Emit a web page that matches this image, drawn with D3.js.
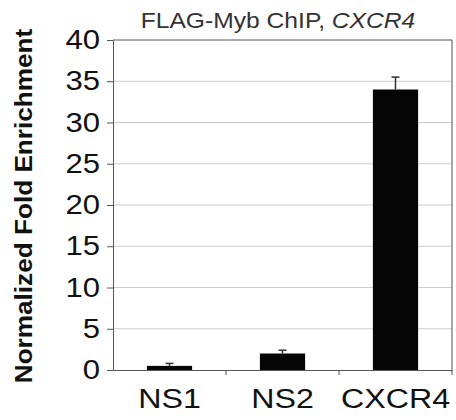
<!DOCTYPE html>
<html>
<head>
<meta charset="utf-8">
<script src="https://cdn.jsdelivr.net/npm/d3@7"></script>
<style>
  body { margin: 0; background: #fff; }
  text { font-family: "Liberation Sans", Arial, sans-serif; }
</style>
</head>
<body>
<div id="chart"></div>
<script>
var categories = ['NS1', 'NS2', 'CXCR4']
var values = [0.5, 2.0, 34.0]
var errors = [0.3, 0.4, 1.5]
var yTicks = [0, 5, 10, 15, 20, 25, 30, 35, 40]

var width = 456, height = 420
var margin = {top: 40, right: 4, bottom: 50, left: 113}

var svg = d3.select('#chart').append('svg')
    .attr('width', width).attr('height', height)

var x = d3.scaleBand().domain(categories)
    .range([margin.left, width - margin.right])
    .paddingInner(0.6).paddingOuter(0.3)
var y = d3.scaleLinear().domain([0, 40]).range([height - margin.bottom, margin.top])

// gridlines
svg.append('g').selectAll('line').data(yTicks.slice(1, -1)).enter()
    .append('line')
    .attr('x1', margin.left).attr('x2', width - margin.right)
    .attr('y1', function (d) { return y(d) }).attr('y2', function (d) { return y(d) })
    .attr('stroke', '#cccccc').attr('stroke-width', 1)

// plot frame (top + right)
svg.append('path')
    .attr('d', 'M' + margin.left + ',' + y(40) + 'H' + (width - margin.right) + 'V' + y(0))
    .attr('fill', 'none').attr('stroke', '#555').attr('stroke-width', 1)

// bars
svg.append('g').selectAll('rect').data(values).enter()
    .append('rect')
    .attr('x', function (d, i) { return x(categories[i]) })
    .attr('width', x.bandwidth())
    .attr('y', function (d) { return y(d) })
    .attr('height', function (d) { return y(0) - y(d) })
    .attr('fill', '#050505')

// error bars (upper only)
var err = svg.append('g').attr('stroke', '#333').attr('stroke-width', 1.5)
values.forEach(function (v, i) {
    var cx = x(categories[i]) + x.bandwidth() / 2
    err.append('line').attr('x1', cx).attr('x2', cx)
        .attr('y1', y(v)).attr('y2', y(v + errors[i]))
    err.append('line').attr('x1', cx - 4).attr('x2', cx + 4)
        .attr('y1', y(v + errors[i])).attr('y2', y(v + errors[i]))
})

// y axis
var yAxis = svg.append('g').attr('transform', 'translate(' + margin.left + ',0)')
    .call(d3.axisLeft(y).tickValues(yTicks).tickSize(6).tickSizeOuter(0))
yAxis.select('.domain').attr('stroke', '#555')
yAxis.selectAll('.tick line').attr('stroke', '#555')
yAxis.selectAll('text').attr('font-size', 27).attr('fill', '#111')
    .attr('font-family', '"Liberation Sans", Arial, sans-serif')
    .attr('x', -13 / 1.15)
    .attr('transform', 'scale(1.15,1)')

// x axis
var xAxis = svg.append('g').attr('transform', 'translate(0,' + y(0) + ')')
    .call(d3.axisBottom(x).tickSize(0).tickSizeOuter(0))
xAxis.select('.domain').attr('stroke', '#555')
xAxis.selectAll('text').attr('font-size', 28).attr('fill', '#111')
    .attr('font-family', '"Liberation Sans", Arial, sans-serif')
    .attr('y', 38).attr('dy', 0)
    .attr('transform', 'scale(1.15,1)')
// category separator ticks
var step = x.step()
svg.append('g').selectAll('line').data(categories).enter()
    .append('line')
    .attr('x1', function (d) { return x(d) + x.bandwidth() + step * x.paddingOuter() })
    .attr('x2', function (d) { return x(d) + x.bandwidth() + step * x.paddingOuter() })
    .attr('y1', y(0)).attr('y2', y(0) + 5)
    .attr('stroke', '#555')

// y label
svg.append('text')
    .attr('transform', 'translate(32,' + ((y(0) + y(40)) / 2 + 1) + ') rotate(-90) scale(1.09,1)')
    .attr('text-anchor', 'middle')
    .attr('font-size', 24).attr('font-weight', 'bold').attr('fill', '#111')
    .text('Normalized Fold Enrichment')

// title
var title = svg.append('text')
    .attr('transform', 'translate(278,28) scale(1.12,1)')
    .attr('text-anchor', 'middle')
    .attr('font-size', 22).attr('fill', '#333')
title.append('tspan').text('FLAG-Myb ChIP, ')
title.append('tspan').attr('font-style', 'italic').text('CXCR4')
</script>
</body>
</html>
